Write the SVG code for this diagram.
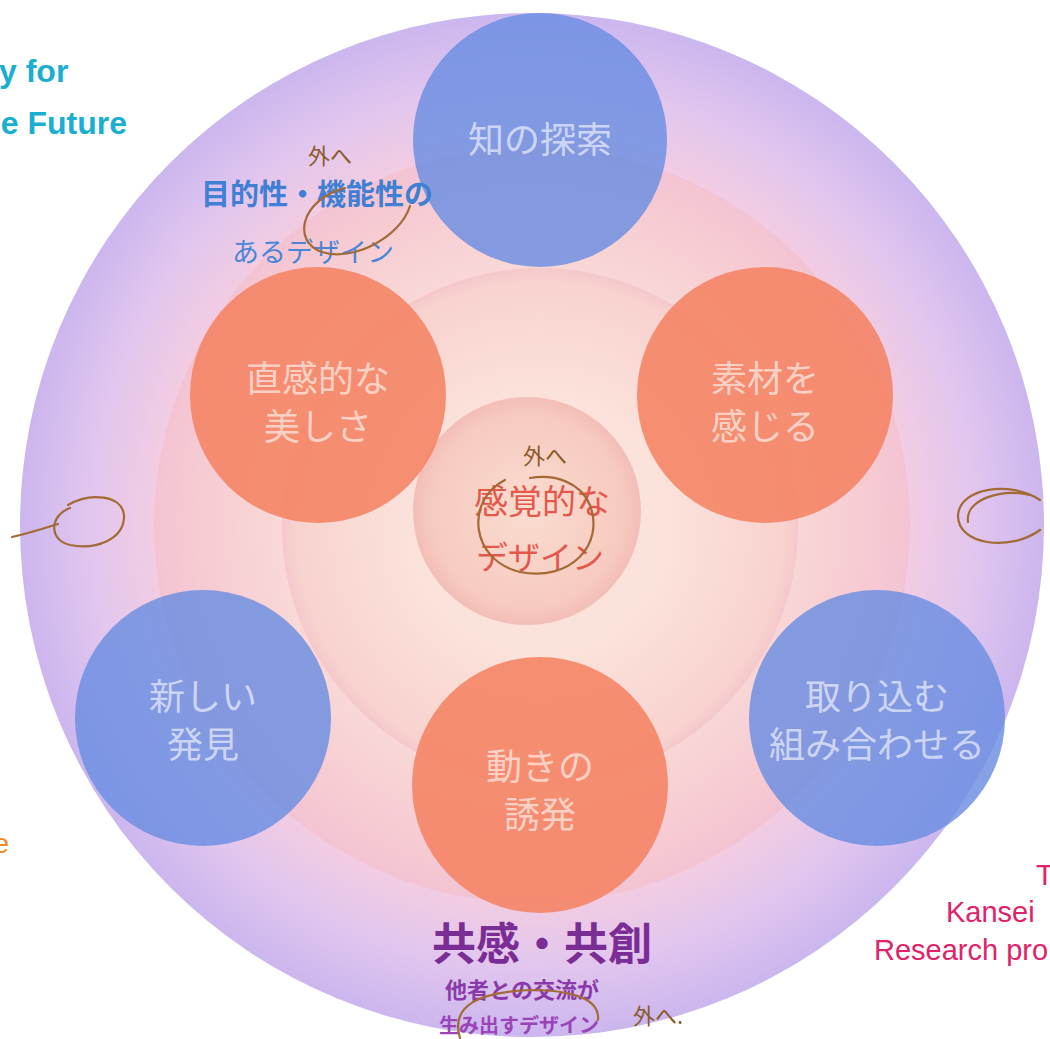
<svg xmlns="http://www.w3.org/2000/svg" width="1050" height="1039" viewBox="0 0 1050 1039">
<defs>
<radialGradient id="gOuter" cx="0.5" cy="0.5" r="0.5">
<stop offset="0" stop-color="#fbe0e4"/>
<stop offset="0.72" stop-color="#f4cde0"/>
<stop offset="0.86" stop-color="#e2c6ee"/>
<stop offset="1" stop-color="#cbb6ee"/>
</radialGradient>
<radialGradient id="gRing2" cx="0.5" cy="0.5" r="0.5">
<stop offset="0.6" stop-color="#fadcd8"/>
<stop offset="0.9" stop-color="#f6cad2"/>
<stop offset="1" stop-color="#f3c3d3"/>
</radialGradient>
<radialGradient id="gRing3" cx="0.5" cy="0.5" r="0.5">
<stop offset="0.5" stop-color="#fbe2da"/>
<stop offset="0.95" stop-color="#f8d2cf"/>
<stop offset="1" stop-color="#f5c8cc"/>
</radialGradient>
<radialGradient id="gInner" cx="0.5" cy="0.5" r="0.5">
<stop offset="0" stop-color="#fadcd0"/>
<stop offset="0.85" stop-color="#f7cabf"/>
<stop offset="1" stop-color="#f3bdb8"/>
</radialGradient>
<style>
.blue{fill:#6a8de2;fill-opacity:0.82}
.orange{fill:#f4805f;fill-opacity:0.85}
.lbl{font-family:"Noto Sans CJK JP","Noto Sans",sans-serif;font-size:36px;fill:#ffffff;fill-opacity:0.62;text-anchor:middle}
.hand{fill:none;stroke:#a36a35;stroke-width:2.2;stroke-linecap:round}
.handtxt{font-family:"Noto Sans CJK JP",sans-serif;font-size:22px;fill:#8a5a2a;text-anchor:middle}
.en{font-family:"Liberation Sans",Arial,sans-serif}
</style>
</defs>
<rect width="1050" height="1039" fill="#ffffff"/>

<g id="rings">
<circle cx="532" cy="525" r="512" fill="url(#gOuter)"/>
<circle cx="532" cy="525" r="378" fill="url(#gRing2)"/>
<circle cx="540" cy="526" r="258" fill="url(#gRing3)"/>
<circle cx="527" cy="511" r="114" fill="url(#gInner)"/>
</g>

<g id="node-top">
<circle class="blue" cx="540" cy="140" r="127"/>
<text class="lbl" x="540" y="153">知の探索</text>
</g>
<g id="node-upleft">
<circle class="orange" cx="318" cy="395" r="128"/>
<text class="lbl" x="318" y="392">直感的な</text>
<text class="lbl" x="318" y="440">美しさ</text>
</g>
<g id="node-upright">
<circle class="orange" cx="765" cy="395" r="128"/>
<text class="lbl" x="765" y="392">素材を</text>
<text class="lbl" x="765" y="440">感じる</text>
</g>
<g id="node-lowleft">
<circle class="blue" cx="203" cy="718" r="128"/>
<text class="lbl" x="203" y="710">新しい</text>
<text class="lbl" x="203" y="758">発見</text>
</g>
<g id="node-lowright">
<circle class="blue" cx="877" cy="718" r="128"/>
<text class="lbl" x="877" y="710">取り込む</text>
<text class="lbl" x="877" y="758">組み合わせる</text>
</g>
<g id="node-bottom">
<circle class="orange" cx="540" cy="785" r="128"/>
<text class="lbl" x="540" y="780">動きの</text>
<text class="lbl" x="540" y="828">誘発</text>
</g>

<g id="center-label">
<text x="542" y="514" font-family="Noto Sans CJK JP,sans-serif" font-size="34" fill="#e4584c" text-anchor="middle">感覚的な</text>
<text x="540" y="569" font-family="Noto Sans CJK JP,sans-serif" font-size="32" fill="#e4584c" text-anchor="middle">デザイン</text>
</g>

<g id="purpose-label">
<text x="317" y="205" font-family="Noto Sans CJK JP,sans-serif" font-size="29" font-weight="bold" fill="#3f7fd4" text-anchor="middle">目的性・機能性の</text>
<text x="313" y="262" font-family="Noto Sans CJK JP,sans-serif" font-size="27" fill="#4a86d8" text-anchor="middle">あるデザイン</text>
</g>

<g id="empathy-label">
<text x="542" y="960" font-family="Noto Sans CJK JP,sans-serif" font-size="44" font-weight="bold" fill="#7b2d96" text-anchor="middle">共感・共創</text>
<text x="522" y="998" font-family="Noto Sans CJK JP,sans-serif" font-size="22" font-weight="bold" fill="#8a3aa8" text-anchor="middle">他者との交流が</text>
<text x="519" y="1033" font-family="Noto Sans CJK JP,sans-serif" font-size="20" font-weight="bold" fill="#9a44b8" text-anchor="middle">生み出すデザイン</text>
</g>

<g id="handwriting">
<path class="hand" d="M345 188 C300 200 292 242 322 252 C352 262 400 238 410 206"/>
<text class="handtxt" x="330" y="164">外へ</text>
<path class="hand" d="M505 480 C465 500 470 560 520 572 C570 582 605 545 590 505 C580 482 555 474 530 478"/>
<text class="handtxt" x="545" y="464">外へ</text>
<path class="hand" d="M460 1038 C450 1005 480 992 530 990 C575 990 600 1000 598 1020"/>
<text class="handtxt" x="658" y="1024">外へ.</text>
<path class="hand" d="M12 537 C30 533 45 528 58 524"/>
<path class="hand" d="M70 508 C50 515 48 540 70 545 C95 550 125 540 124 515 C122 495 90 492 68 505"/>
<path class="hand" d="M1040 500 C1010 480 960 488 958 515 C957 545 1010 552 1040 530"/>
<path class="hand" d="M1030 495 C1000 488 965 500 968 522"/>
</g>

<g id="side-texts" class="en">
<text x="-1" y="82" font-size="32" font-weight="bold" fill="#1aaed0">y for</text>
<text x="127" y="134" font-size="32" font-weight="bold" fill="#1aaed0" text-anchor="end">e Future</text>
<text x="9" y="853" font-size="28" fill="#ee8a22" text-anchor="end">e</text>
<text x="1036" y="885" font-size="29" fill="#e0226a">T</text>
<text x="946" y="922" font-size="29" fill="#e0226a">Kansei</text>
<text x="874" y="960" font-size="29" fill="#e0226a">Research pro</text>
</g>
</svg>
